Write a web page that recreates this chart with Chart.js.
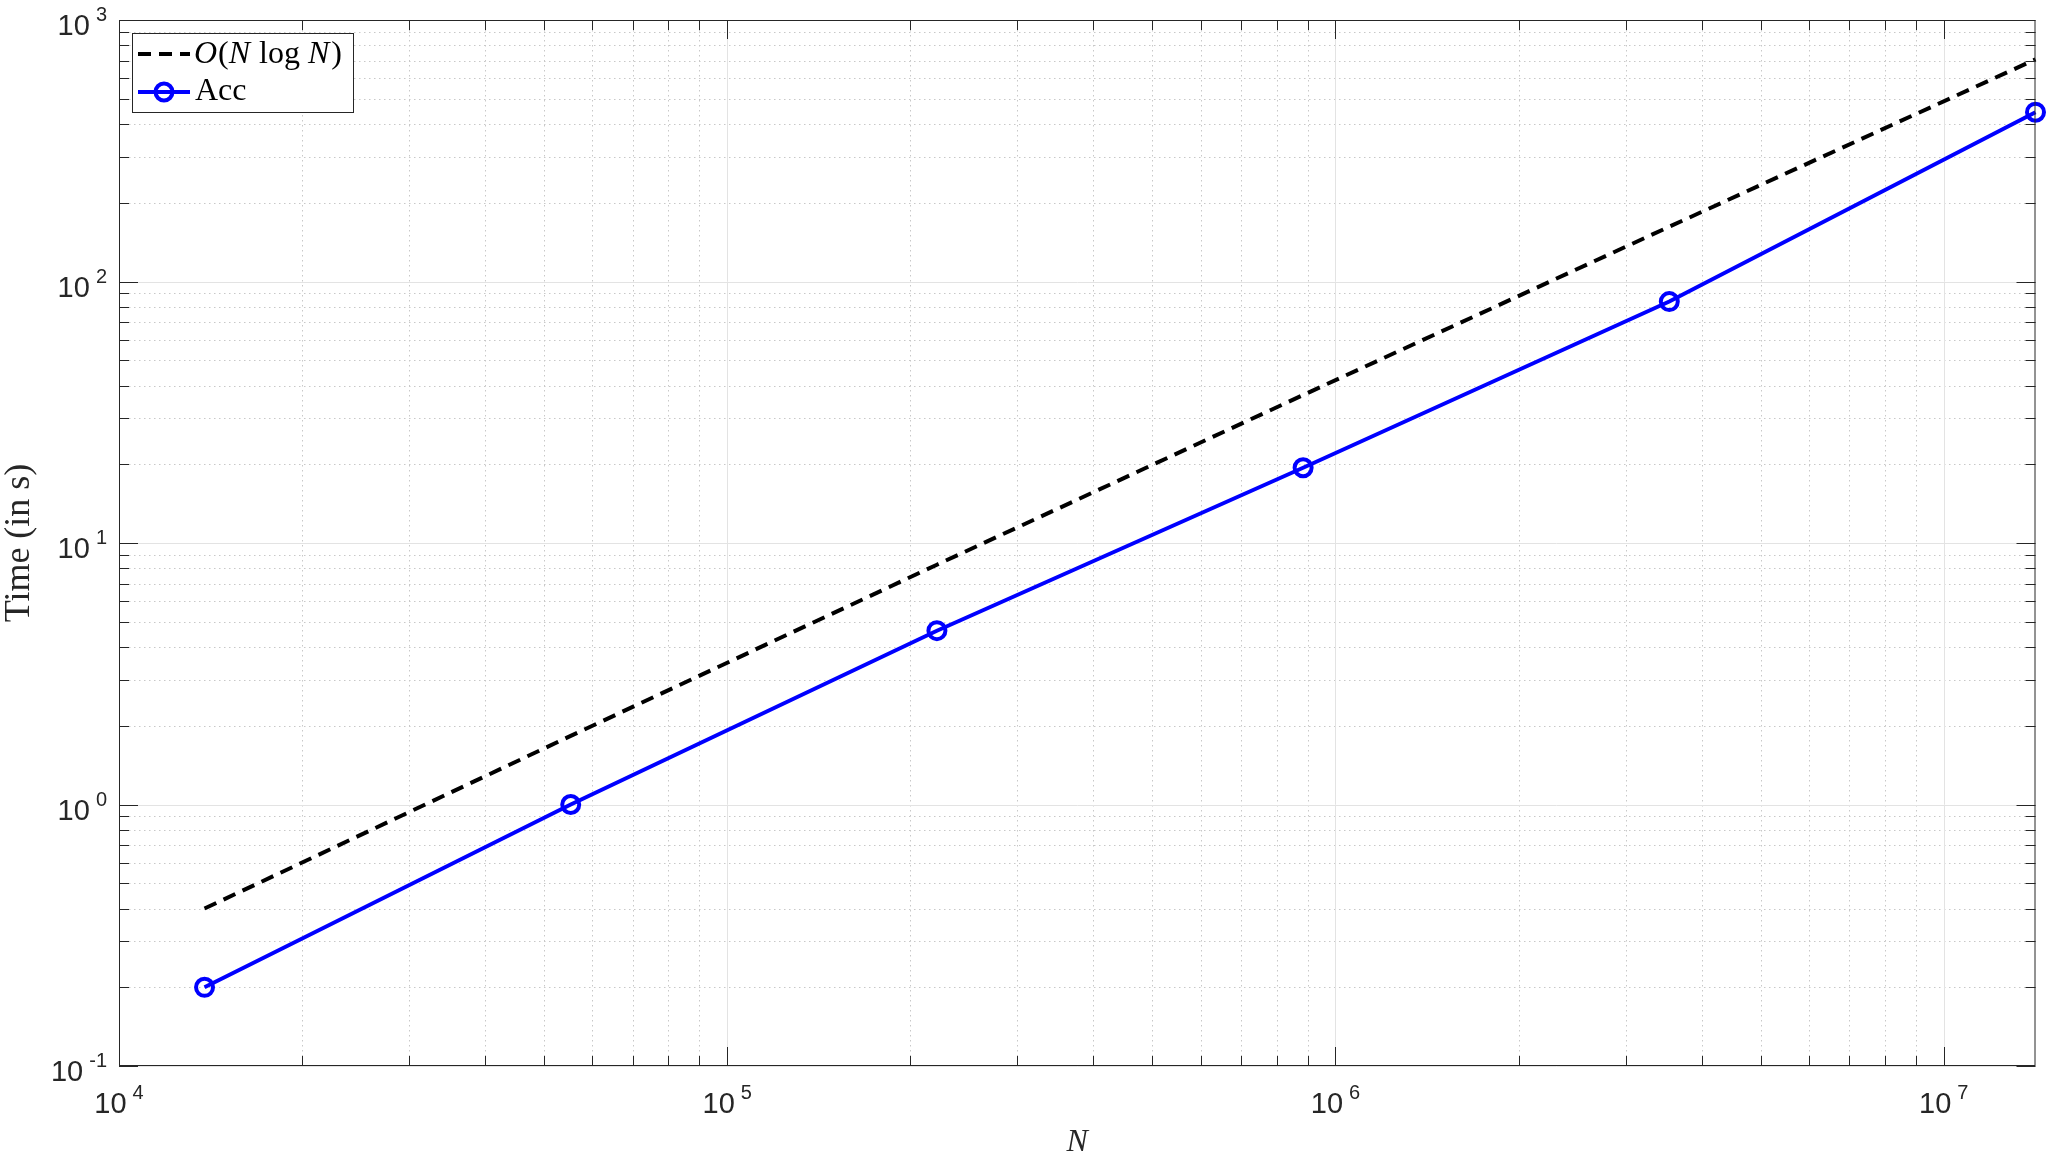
<!DOCTYPE html>
<html>
<head>
<meta charset="utf-8">
<script src="https://cdn.jsdelivr.net/npm/chart.js@4.4.0/dist/chart.umd.min.js"></script>
<style>
  html, body { margin: 0; padding: 0; background: #fff; }
  #chart { display: block; }
</style>
</head>
<body>
<canvas id="chart" width="2048" height="1153"></canvas>
<script>
// =========================================================================
// Data
// =========================================================================
const problemSizes = [13824, 55296, 221184, 884736, 3538944, 14155776];
const accTimes = [0.2, 1.0, 4.62, 19.4, 83.8, 444];
const refTimes = [0.4, 1.83, 8.26, 36.8, 162, 707];

const xTickExponents = [4, 5, 6, 7];
const yTickExponents = [-1, 0, 1, 2, 3];
const xRange = [1e4, 14155776];
const yRange = [0.1, 1000];

const AXIS_COLOR = "#262626";
const SANS = "'Liberation Sans', Arial, sans-serif";
const SERIF = "'Liberation Serif', 'Times New Roman', serif";

// =========================================================================
// Helpers
// =========================================================================
function minorValues(exps, lo, hi) {
  const out = [];
  for (let e = exps[0] - 1; e <= exps[exps.length - 1]; e++) {
    for (let m = 2; m <= 9; m++) {
      const v = m * Math.pow(10, e);
      if (v > lo && v < hi) out.push(v);
    }
  }
  return out;
}

function powerLabel(ctx, exp, x, y, align) {
  // draws "10" with a raised exponent; y = baseline of "10"
  ctx.font = "29px " + SANS;
  const wBase = ctx.measureText("10").width;
  ctx.font = "20px " + SANS;
  const expText = exp < 0 ? "-" + Math.abs(exp) : String(exp);
  const wExp = ctx.measureText(expText).width;
  const gap = 6;
  const total = wBase + gap + wExp;
  let left = x;
  if (align === "right") left = x - total;
  if (align === "center") left = x - total / 2;
  ctx.textAlign = "left";
  ctx.textBaseline = "alphabetic";
  ctx.font = "29px " + SANS;
  ctx.fillText("10", left, y);
  ctx.font = "20px " + SANS;
  ctx.fillText(expText, left + wBase + gap, y - 14);
}

function drawPieces(ctx, pieces, x, y) {
  ctx.textAlign = "left";
  ctx.textBaseline = "middle";
  for (const p of pieces) {
    x += p.pad || 0;
    ctx.font = (p.italic ? "italic " : "") + "32px " + SERIF;
    ctx.fillText(p.t, x, y);
    x += ctx.measureText(p.t).width;
  }
}

// =========================================================================
// MATLAB-like axes plugin
// =========================================================================
const matlabAxes = {
  id: "matlabAxes",
  beforeDatasetsDraw(chart) {
    const { ctx, chartArea: a, scales } = chart;
    const xs = scales.x, ys = scales.y;
    ctx.save();
    ctx.lineWidth = 1;
    // minor grid (dotted)
    ctx.strokeStyle = "#c8c8c8";
    ctx.setLineDash([1.5, 3.5]);
    for (const v of minorValues(xTickExponents, xRange[0], xRange[1])) {
      const px = Math.round(xs.getPixelForValue(v)) + 0.5;
      ctx.beginPath(); ctx.moveTo(px, a.top); ctx.lineTo(px, a.bottom); ctx.stroke();
    }
    for (const v of minorValues(yTickExponents, yRange[0], yRange[1])) {
      const py = Math.round(ys.getPixelForValue(v)) + 0.5;
      ctx.beginPath(); ctx.moveTo(a.left, py); ctx.lineTo(a.right, py); ctx.stroke();
    }
    // major grid (solid)
    ctx.setLineDash([]);
    ctx.strokeStyle = "#e3e3e3";
    for (const e of xTickExponents) {
      const px = Math.round(xs.getPixelForValue(Math.pow(10, e))) + 0.5;
      ctx.beginPath(); ctx.moveTo(px, a.top); ctx.lineTo(px, a.bottom); ctx.stroke();
    }
    for (const e of yTickExponents) {
      const py = Math.round(ys.getPixelForValue(Math.pow(10, e))) + 0.5;
      ctx.beginPath(); ctx.moveTo(a.left, py); ctx.lineTo(a.right, py); ctx.stroke();
    }
    ctx.restore();
  },
  afterDatasetsDraw(chart) {
    const { ctx, chartArea: a, scales } = chart;
    const xs = scales.x, ys = scales.y;
    ctx.save();
    ctx.strokeStyle = AXIS_COLOR;
    ctx.lineWidth = 1;
    ctx.setLineDash([]);

    // ticks, inward on all four sides
    const tickX = (v, len) => {
      const px = Math.round(xs.getPixelForValue(v)) + 0.5;
      ctx.beginPath();
      ctx.moveTo(px, a.bottom); ctx.lineTo(px, a.bottom - len);
      ctx.moveTo(px, a.top); ctx.lineTo(px, a.top + len);
      ctx.stroke();
    };
    const tickY = (v, len) => {
      const py = Math.round(ys.getPixelForValue(v)) + 0.5;
      ctx.beginPath();
      ctx.moveTo(a.left, py); ctx.lineTo(a.left + len, py);
      ctx.moveTo(a.right, py); ctx.lineTo(a.right - len, py);
      ctx.stroke();
    };
    minorValues(xTickExponents, xRange[0], xRange[1]).forEach((v) => tickX(v, 10));
    minorValues(yTickExponents, yRange[0], yRange[1]).forEach((v) => tickY(v, 10));
    xTickExponents.forEach((e) => tickX(Math.pow(10, e), 19));
    yTickExponents.forEach((e) => tickY(Math.pow(10, e), 19));

    // box
    ctx.strokeRect(a.left + 0.5, a.top + 0.5, a.right - a.left - 1, a.bottom - a.top - 1);

    // tick labels
    ctx.fillStyle = AXIS_COLOR;
    for (const e of xTickExponents) {
      powerLabel(ctx, e, xs.getPixelForValue(Math.pow(10, e)), a.bottom + 47, "center");
    }
    for (const e of yTickExponents) {
      powerLabel(ctx, e, a.left - 12, ys.getPixelForValue(Math.pow(10, e)) + 15, "right");
    }

    // axis titles
    ctx.font = "italic 32px " + SERIF;
    ctx.textAlign = "center";
    ctx.textBaseline = "alphabetic";
    ctx.fillText("N", (a.left + a.right) / 2, 1151);
    ctx.save();
    ctx.translate(29, (a.top + a.bottom) / 2);
    ctx.rotate(-Math.PI / 2);
    ctx.font = "36px " + SERIF;
    ctx.fillText("Time (in s)", 0, 0);
    ctx.restore();

    // legend
    const ds = chart.data.datasets;
    ctx.fillStyle = "#fff";
    ctx.fillRect(132, 33, 221, 79);
    ctx.strokeStyle = AXIS_COLOR;
    ctx.lineWidth = 1;
    ctx.strokeRect(132.5, 33.5, 221, 79);

    ctx.lineWidth = ds[0].borderWidth;
    ctx.strokeStyle = ds[0].borderColor;
    ctx.setLineDash(ds[0].borderDash);
    ctx.beginPath(); ctx.moveTo(138, 54); ctx.lineTo(190, 54); ctx.stroke();
    ctx.setLineDash([]);

    ctx.lineWidth = ds[1].borderWidth;
    ctx.strokeStyle = ds[1].borderColor;
    ctx.beginPath(); ctx.moveTo(138, 92); ctx.lineTo(190, 92); ctx.stroke();
    ctx.lineWidth = ds[1].pointBorderWidth;
    ctx.beginPath(); ctx.arc(164, 92, ds[1].pointRadius, 0, Math.PI * 2); ctx.stroke();

    ctx.fillStyle = "#000";
    drawPieces(ctx, [
      { t: "O", italic: true }, { t: "(", pad: 1 }, { t: "N", italic: true },
      { t: "log", pad: 9 }, { t: "N", italic: true, pad: 8 }, { t: ")", pad: 2 },
    ], 194, 55);
    drawPieces(ctx, [{ t: "Acc" }], 195, 92);
    ctx.restore();
  },
};

// =========================================================================
// Chart
// =========================================================================
const toPoints = (ys) => problemSizes.map((n, i) => ({ x: n, y: ys[i] }));

new Chart(document.getElementById("chart"), {
  type: "line",
  data: {
    datasets: [
      {
        label: "O(N log N)",
        data: toPoints(refTimes),
        borderColor: "#000000",
        borderWidth: 4,
        borderDash: [13, 8],
        pointRadius: 0,
        tension: 0,
        fill: false,
        clip: false,
      },
      {
        label: "Acc",
        data: toPoints(accTimes),
        borderColor: "#0000ff",
        borderWidth: 4,
        pointRadius: 8.5,
        pointBorderWidth: 4,
        pointBorderColor: "#0000ff",
        pointBackgroundColor: "rgba(0,0,0,0)",
        tension: 0,
        fill: false,
        clip: false,
      },
    ],
  },
  options: {
    responsive: false,
    devicePixelRatio: 1,
    animation: false,
    events: [],
    layout: { padding: { left: 119, right: 11, top: 20, bottom: 87 } },
    plugins: { legend: { display: false }, tooltip: { enabled: false } },
    scales: {
      x: { type: "logarithmic", min: xRange[0], max: xRange[1], display: false },
      y: { type: "logarithmic", min: yRange[0], max: yRange[1], display: false },
    },
  },
  plugins: [matlabAxes],
});
</script>
</body>
</html>
